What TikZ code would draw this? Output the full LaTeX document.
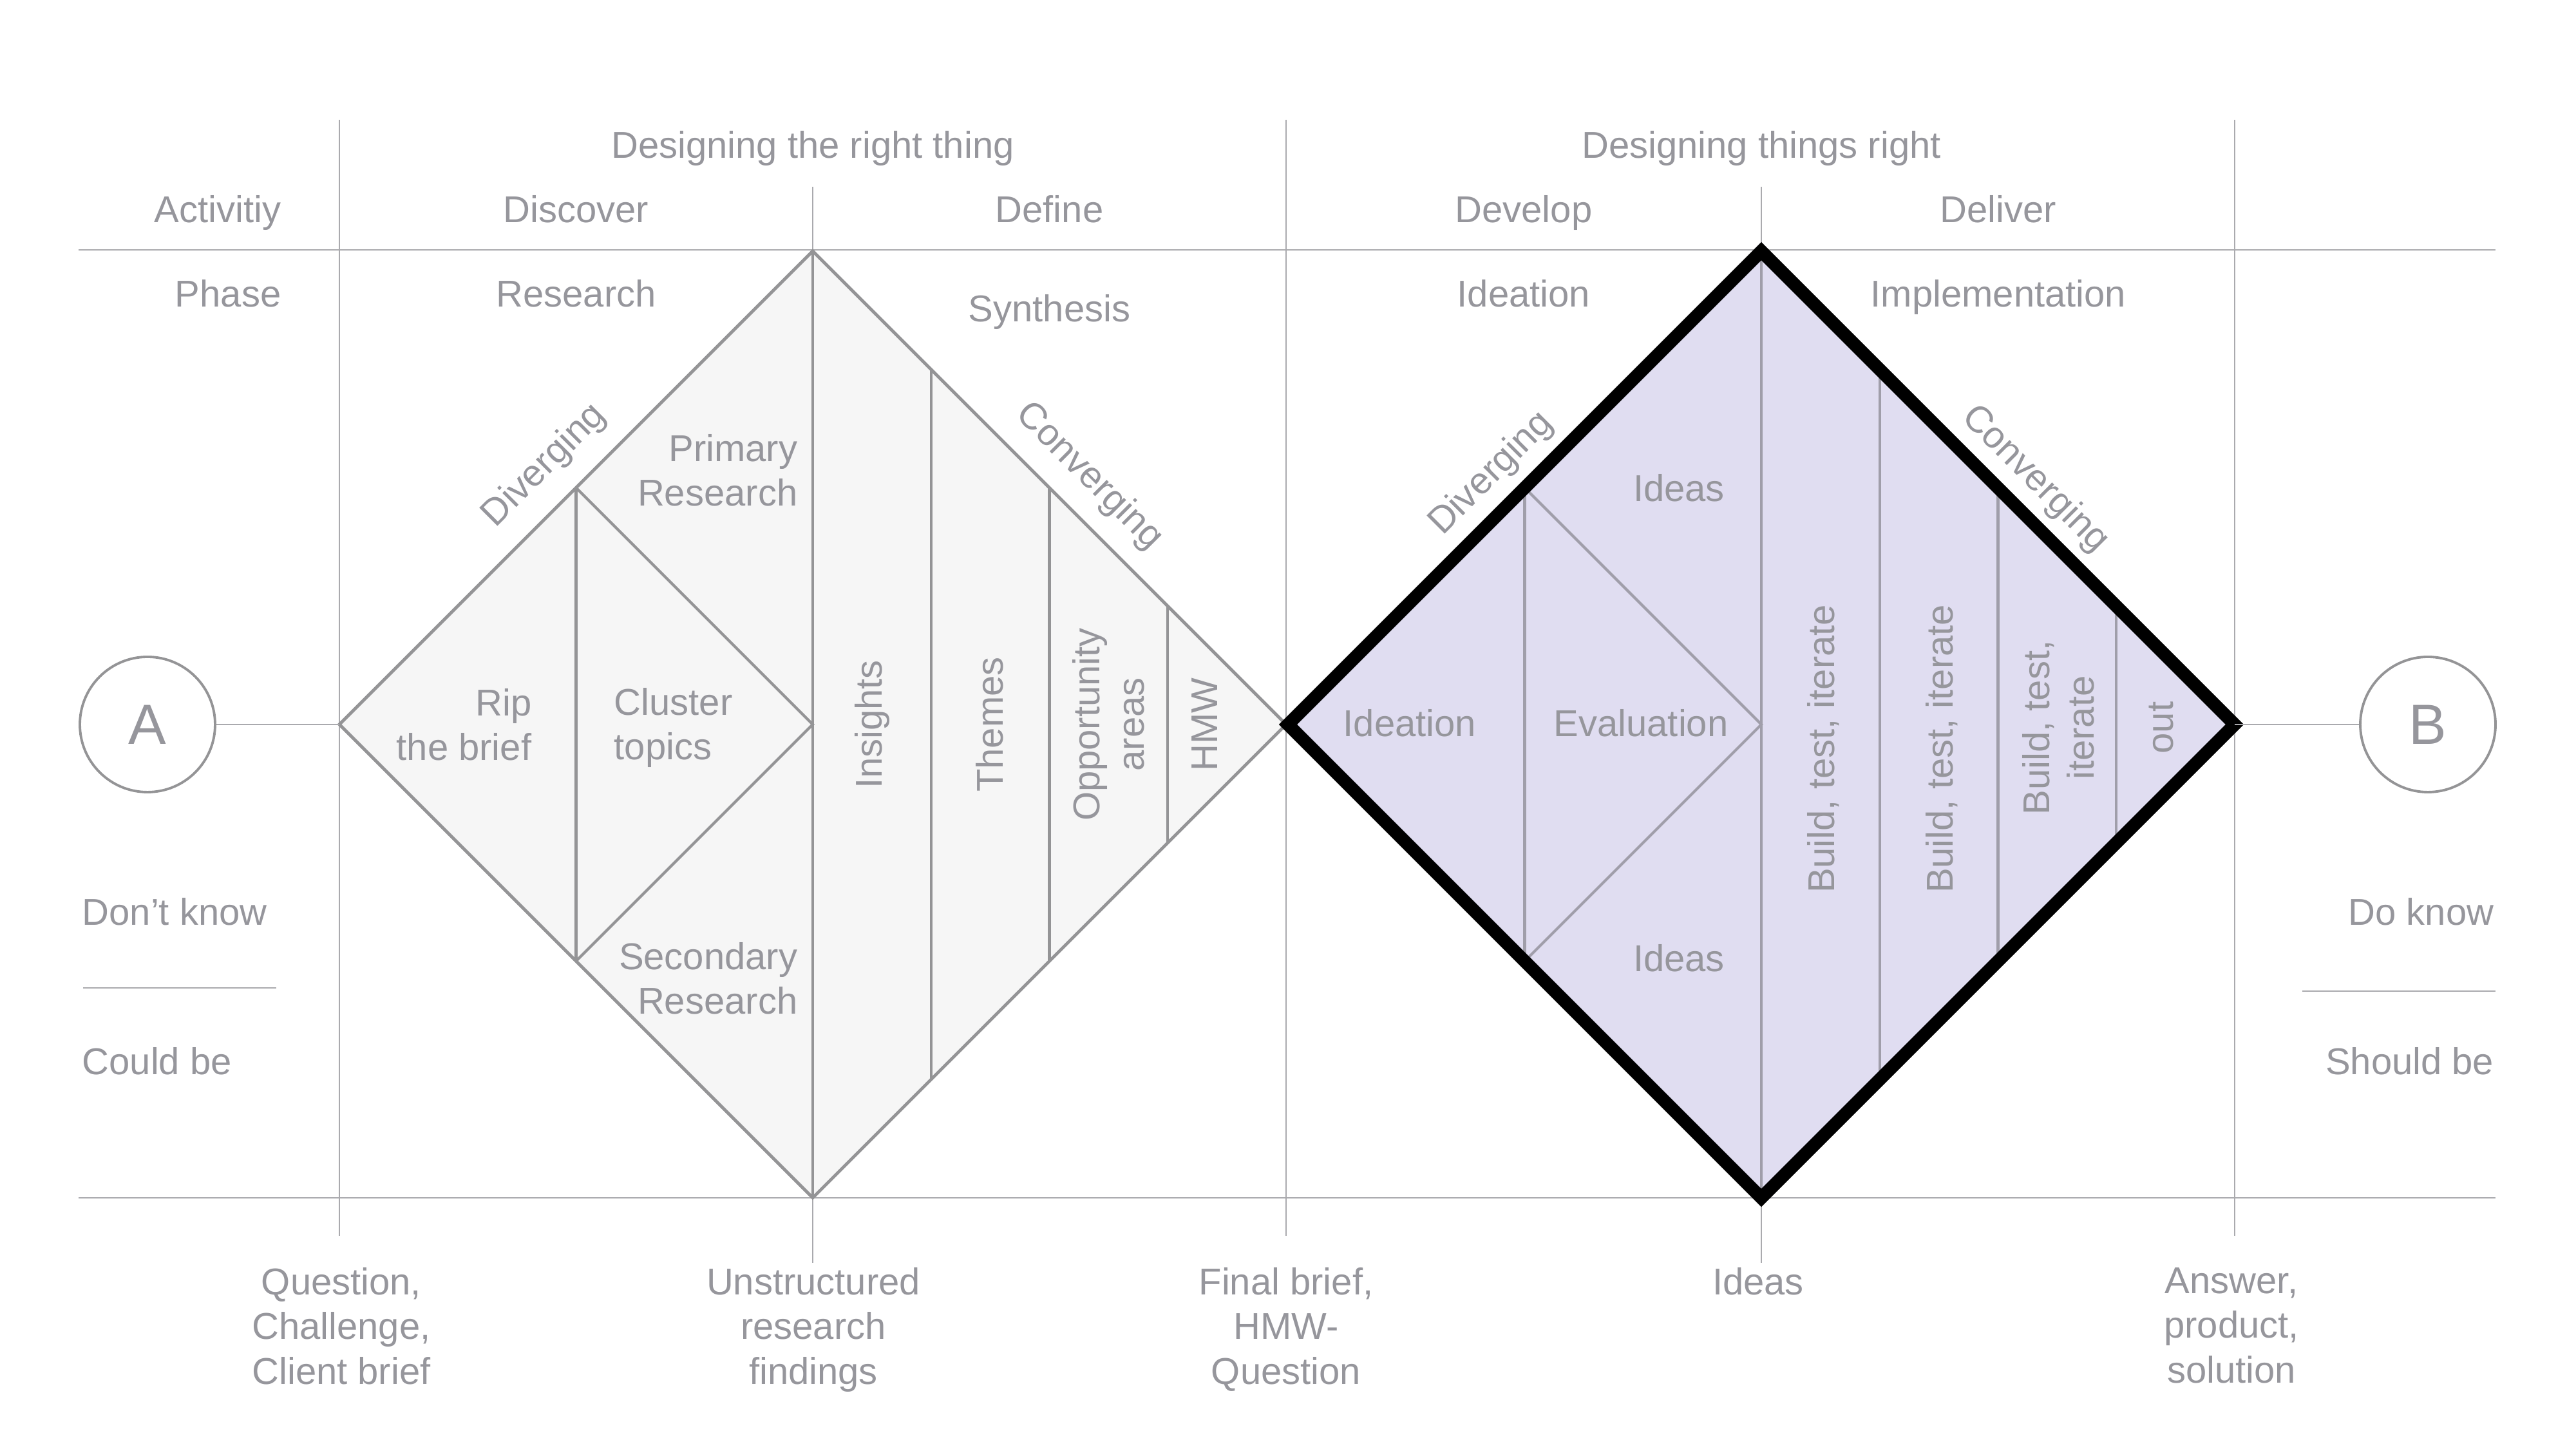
\documentclass[tikz,border=0pt]{standalone}
\usepackage{fontspec}
\setmainfont{Liberation Sans}
\usetikzlibrary{calc}

\definecolor{txtgray}{RGB}{150,150,156}
\definecolor{gridgray}{RGB}{170,170,174}
\definecolor{edgegray}{RGB}{148,148,150}
\definecolor{dfill}{RGB}{246,246,246}
\definecolor{lavfill}{RGB}{224,221,241}
\definecolor{lavline}{RGB}{160,158,170}

\begin{document}
\begin{tikzpicture}[
  font=\fontsize{16.5}{19.7}\selectfont,
  lbl/.style={text=txtgray, inner sep=0pt, align=center},
  vlbl/.style={lbl, rotate=90},
  gridline/.style={draw=gridgray, line width=0.7pt},
  edgeone/.style={draw=edgegray, line width=1.4pt},
  innerone/.style={draw=edgegray, line width=1.2pt},
  edgetwo/.style={draw=black, line width=5.7pt},
  innertwo/.style={draw=lavline, line width=1.2pt},
  endpt/.style={circle, draw=edgegray, line width=1.1pt, minimum size=2.1cm, inner sep=0pt, text=txtgray, font=\fontsize{25}{30}\selectfont}
]
  \useasboundingbox (0,0) rectangle (40,22.5);

  \draw[gridline] (1.22,18.62) -- (38.75,18.62);
  \draw[gridline] (1.22,3.90) -- (38.75,3.90);
  \foreach \x in {5.27,19.97,34.70} \draw[gridline] (\x,20.64) -- (\x,3.31);
  \foreach \x in {12.62,27.35} \draw[gridline] (\x,19.60) -- (\x,2.89);
  \draw[gridline] (1.29,7.16) -- (4.29,7.16);
  \draw[gridline] (35.75,7.11) -- (38.75,7.11);

  \coordinate (l1) at (5.27,11.25);
  \coordinate (t1) at (12.62,18.60);
  \coordinate (r1) at (19.97,11.25);
  \coordinate (b1) at (12.62,3.90);
  \coordinate (c1) at (12.62,11.25);
  \coordinate (l2) at (20.00,11.25);
  \coordinate (t2) at (27.35,18.60);
  \coordinate (r2) at (34.70,11.25);
  \coordinate (b2) at (27.35,3.90);
  \coordinate (c2) at (27.35,11.25);

  \fill[dfill] (l1) -- (t1) -- (r1) -- (b1) -- cycle;
  \draw[innerone] ($(l1)!.5!(t1)$) -- ($(l1)!.5!(b1)$);
  \draw[innerone] ($(l1)!.5!(t1)$) -- (c1) -- ($(l1)!.5!(b1)$);
  \draw[innerone] (t1) -- (b1);
  \foreach \k in {1,2,3} \draw[innerone] ($(t1)!\k/4!(r1)$) -- ($(b1)!\k/4!(r1)$);
  \draw[edgeone] (l1) -- (t1) -- (r1) -- (b1) -- cycle;

  \fill[lavfill] (l2) -- (t2) -- (r2) -- (b2) -- cycle;
  \draw[innertwo] ($(l2)!.5!(t2)$) -- ($(l2)!.5!(b2)$);
  \draw[innertwo] ($(l2)!.5!(t2)$) -- (c2) -- ($(l2)!.5!(b2)$);
  \draw[innertwo] (t2) -- (b2);
  \foreach \k in {1,2,3} \draw[innertwo] ($(t2)!\k/4!(r2)$) -- ($(b2)!\k/4!(r2)$);
  \draw[edgetwo] (l2) -- (t2) -- (r2) -- (b2) -- cycle;

  \node[endpt] (A) at (2.29,11.25) {A};
  \node[endpt] (B) at (37.70,11.25) {B};
  \draw[gridline] (A) -- (l1);
  \draw[gridline] (r2) -- (B);

  \node[lbl, anchor=base] (hd1) at (12.62,20.04) {Designing the right thing};
  \node[lbl, anchor=base] (hd2) at (27.35,20.04) {Designing things right};
  \node[lbl, anchor=base east] (act) at (4.37,19.04) {Activitiy};
  \node[lbl, anchor=base] (disc) at (8.945,19.04) {Discover};
  \node[lbl, anchor=base] (def) at (16.295,19.04) {Define};
  \node[lbl, anchor=base] (dev) at (23.66,19.04) {Develop};
  \node[lbl, anchor=base] (del) at (31.03,19.04) {Deliver};
  \node[lbl, anchor=base east] (phase) at (4.37,17.73) {Phase};
  \node[lbl, anchor=base] (res) at (8.945,17.73) {Research};
  \node[lbl, anchor=base] (syn) at (16.295,17.50) {Synthesis};
  \node[lbl, anchor=base] (ide) at (23.66,17.73) {Ideation};
  \node[lbl, anchor=base] (impl) at (31.03,17.73) {Implementation};

  \node[lbl, anchor=north east, align=right] (rip) at (8.26,11.81) {Rip\\the brief};
  \node[lbl, anchor=north west, align=left] (clu) at (9.53,11.82) {Cluster\\topics};
  \node[lbl, anchor=north east, align=right] (pri) at (12.39,15.76) {Primary\\Research};
  \node[lbl, anchor=north east, align=right] (sec) at (12.39,7.87) {Secondary\\Research};
  \node[vlbl] (ins) at (13.54,11.25) {Insights};
  \node[vlbl] (thm) at (15.37,11.25) {Themes};
  \node[vlbl] (opp) at (17.21,11.25) {Opportunity\\areas};
  \node[vlbl] (hmw) at (18.71,11.25) {HMW};
  \path (l1) -- node[lbl, sloped, above=0.31cm, pos=0.49] (dv1) {Diverging} (t1);
  \path (t1) -- node[lbl, sloped, above=0.28cm, pos=0.53] (cv1) {Converging} (r1);

  \node[lbl] (idt) at (21.89,11.27) {Ideation};
  \node[lbl] (eva) at (25.48,11.27) {Evaluation};
  \node[lbl] (ida) at (26.07,14.92) {Ideas};
  \node[lbl] (idb) at (26.07,7.62) {Ideas};
  \node[vlbl] (bti1) at (28.31,10.87) {Build, test, iterate};
  \node[vlbl] (bti2) at (30.15,10.87) {Build, test, iterate};
  \node[vlbl] (bti3) at (31.96,11.20) {Build, test,\\iterate};
  \node[vlbl] (out) at (33.56,11.20) {out};
  \path (l2) -- node[lbl, sloped, above=0.24cm, pos=0.48] (dv2) {Diverging} (t2);
  \path (t2) -- node[lbl, sloped, above=0.22cm, pos=0.53] (cv2) {Converging} (r2);

  \node[lbl, anchor=base west] (dk) at (1.27,8.13) {Don't know};
  \node[lbl, anchor=base west] (cb) at (1.27,5.81) {Could be};
  \node[lbl, anchor=base east] (dok) at (38.73,8.13) {Do know};
  \node[lbl, anchor=base east] (sb) at (38.73,5.81) {Should be};

  \node[lbl, anchor=north] (q1) at (5.30,2.82) {Question,\\Challenge,\\Client brief};
  \node[lbl, anchor=north] (q2) at (12.63,2.82) {Unstructured\\research\\findings};
  \node[lbl, anchor=north] (q3) at (19.97,2.82) {Final brief,\\HMW-\\Question};
  \node[lbl, anchor=north] (q4) at (27.30,2.82) {Ideas};
  \node[lbl, anchor=north] (q5) at (34.65,2.82) {Answer,\\product,\\solution};
\end{tikzpicture}
\end{document}
